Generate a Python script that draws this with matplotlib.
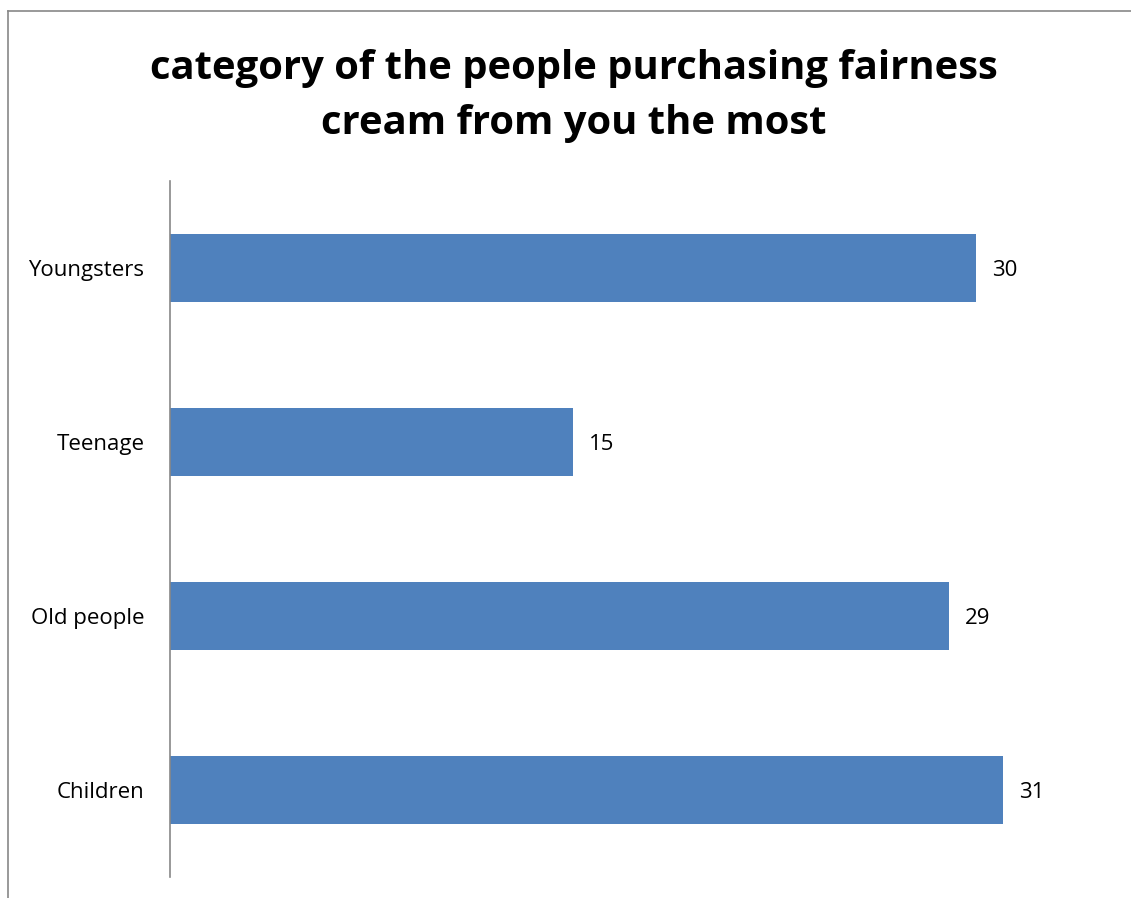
import matplotlib.pyplot as plt
from matplotlib.lines import Line2D

categories = ["Children", "Old people", "Teenage", "Youngsters"]
values = [31, 29, 15, 30]

plt.rcParams['font.family'] = ['Open Sans', 'DejaVu Sans']

W, H = 1131, 898
fig = plt.figure(figsize=(W / 100, H / 100), dpi=100)
ax = fig.add_axes([170 / W, 1 - 877 / H, 930 / W, 696 / H])

bars = ax.barh(categories, values, height=0.39, color="#4F81BD")
for b, v in zip(bars, values):
    ax.text(b.get_width() + 0.6, b.get_y() + b.get_height() / 2 - 0.015, str(v),
            va="center", ha="left", fontsize=16)

ax.set_xlim(0, 930 / 26.87)
ax.set_ylim(-0.5, 3.5)
ax.set_xticks([])
for s in ["top", "right", "bottom"]:
    ax.spines[s].set_visible(False)
ax.spines["left"].set_color("#888888")
ax.spines["left"].set_linewidth(1.2)
ax.tick_params(axis="y", length=0, labelsize=16, pad=18.5)

fig.text(574 / W, 1 - 96 / H, "category of the people purchasing fairness\ncream from you the most",
         ha="center", va="center", fontsize=28.8, fontweight="bold", linespacing=1.55)

# chart frame (only left and top edges visible)
fig.add_artist(Line2D([8 / W, 8 / W], [0, 1 - 11 / H], transform=fig.transFigure,
                      color="#888888", lw=1.2))
fig.add_artist(Line2D([8 / W, 1], [1 - 11 / H, 1 - 11 / H], transform=fig.transFigure,
                      color="#888888", lw=1.2))

fig.savefig("out.png", dpi=100)
